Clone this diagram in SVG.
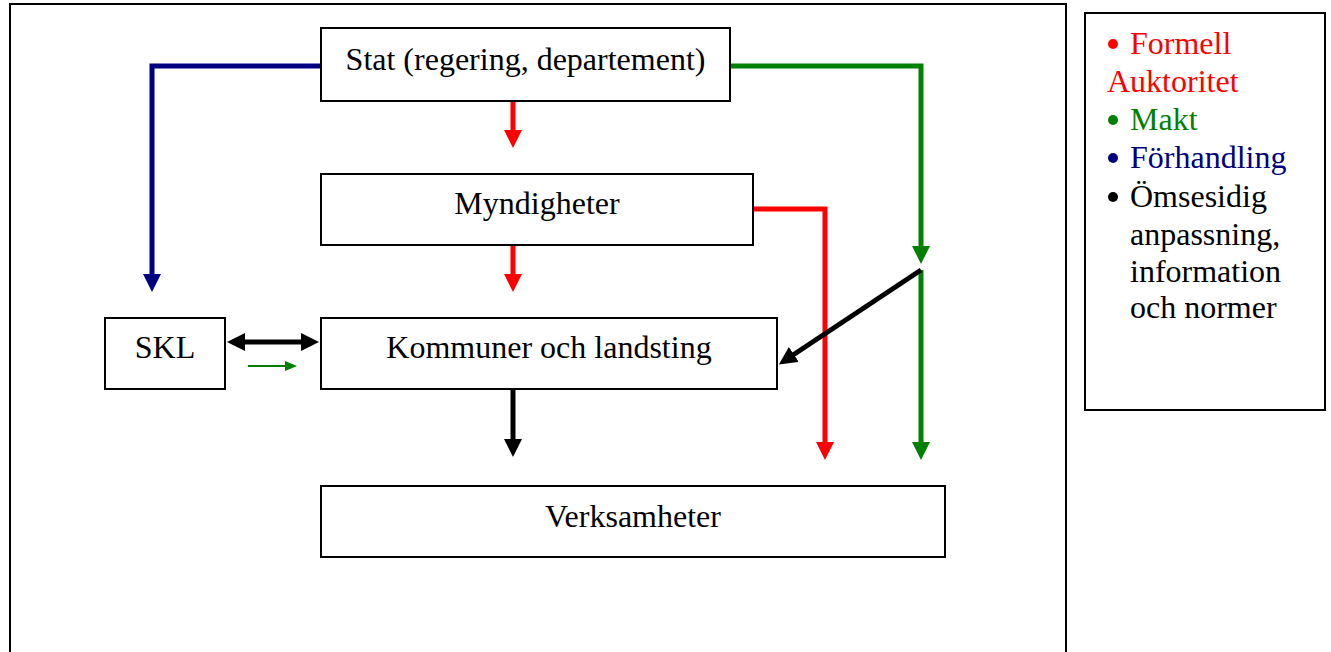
<svg xmlns="http://www.w3.org/2000/svg" width="1331" height="652" viewBox="0 0 1331 652">
<defs>
<style>
.box{fill:#fff;stroke:#000;stroke-width:2}
.lbl{font-family:"Liberation Serif","Times New Roman",serif;font-size:32px;fill:#000}
.c{fill:none;stroke-width:5;stroke-linejoin:miter}
.leg{font-family:"Liberation Serif","Times New Roman",serif;font-size:32px}
</style>
<marker id="aR" markerUnits="userSpaceOnUse" viewBox="0 0 18 18" markerWidth="18" markerHeight="18" refX="1" refY="9" orient="auto"><path d="M0,0 L18,9 L0,18 Z" fill="#ff0000"/></marker>
<marker id="aG" markerUnits="userSpaceOnUse" viewBox="0 0 18 18" markerWidth="18" markerHeight="18" refX="1" refY="9" orient="auto"><path d="M0,0 L18,9 L0,18 Z" fill="#008000"/></marker>
<marker id="aB" markerUnits="userSpaceOnUse" viewBox="0 0 18 18" markerWidth="18" markerHeight="18" refX="1" refY="9" orient="auto"><path d="M0,0 L18,9 L0,18 Z" fill="#000080"/></marker>
<marker id="aK" markerUnits="userSpaceOnUse" viewBox="0 0 18 18" markerWidth="18" markerHeight="18" refX="1" refY="9" orient="auto-start-reverse"><path d="M0,0 L18,9 L0,18 Z" fill="#000"/></marker>
<marker id="aGs" markerUnits="userSpaceOnUse" viewBox="0 0 12 10" markerWidth="12" markerHeight="10" refX="1" refY="5" orient="auto"><path d="M0,0 L12,5 L0,10 Z" fill="#008000"/></marker>
</defs>
<rect x="10" y="4" width="1056" height="670" fill="none" stroke="#000" stroke-width="2"/>
<g id="connectors">
<path class="c" stroke="#000080" d="M321,66 H152 V275" marker-end="url(#aB)"/>
<path class="c" stroke="#008000" d="M730,66 H921 V247" marker-end="url(#aG)"/>
<path class="c" stroke="#008000" d="M921,270 V443" marker-end="url(#aG)"/>
<path class="c" stroke="#ff0000" d="M513,102 V131" marker-end="url(#aR)"/>
<path class="c" stroke="#ff0000" d="M513,246 V275" marker-end="url(#aR)"/>
<path class="c" stroke="#ff0000" d="M753,209 H825 V443" marker-end="url(#aR)"/>
<path class="c" stroke="#000" d="M921,270 L793,355" marker-end="url(#aK)"/>
<path class="c" stroke="#000" d="M244,342 H302" marker-start="url(#aK)" marker-end="url(#aK)"/>
<path class="c" stroke="#000" d="M513,390 V440" marker-end="url(#aK)"/>
<path fill="none" stroke="#008000" stroke-width="2" d="M248,366 H286" marker-end="url(#aGs)"/>
</g>
<g id="stat"><rect class="box" x="321" y="28" width="409" height="73"/><text class="lbl" x="525.5" y="70" text-anchor="middle">Stat (regering, departement)</text></g>
<g id="myndigheter"><rect class="box" x="321" y="174" width="432" height="71"/><text class="lbl" x="537" y="214" text-anchor="middle">Myndigheter</text></g>
<g id="kommuner"><rect class="box" x="321" y="318" width="456" height="71"/><text class="lbl" x="549" y="358" text-anchor="middle">Kommuner och landsting</text></g>
<g id="skl"><rect class="box" x="105" y="318" width="120" height="71"/><text class="lbl" x="165" y="358" text-anchor="middle">SKL</text></g>
<g id="verksamheter"><rect class="box" x="321" y="486" width="624" height="71"/><text class="lbl" x="633" y="527" text-anchor="middle">Verksamheter</text></g>
<g id="legend">
<rect class="box" x="1085" y="13" width="240" height="397"/>
<circle cx="1113" cy="44" r="5" fill="#ff0000"/>
<circle cx="1113" cy="120" r="5" fill="#008000"/>
<circle cx="1113" cy="158" r="5" fill="#000080"/>
<circle cx="1113" cy="197" r="5" fill="#000"/>
<text class="leg" fill="#ff0000"><tspan x="1130" y="54">Formell</tspan><tspan x="1107" y="92">Auktoritet</tspan></text>
<text class="leg" fill="#008000" x="1130" y="130">Makt</text>
<text class="leg" fill="#000080" x="1130" y="168">Förhandling</text>
<text class="leg" fill="#000"><tspan x="1130" y="207">Ömsesidig</tspan><tspan x="1130" y="245">anpassning,</tspan><tspan x="1130" y="282">information</tspan><tspan x="1130" y="318">och normer</tspan></text>
</g>
</svg>
